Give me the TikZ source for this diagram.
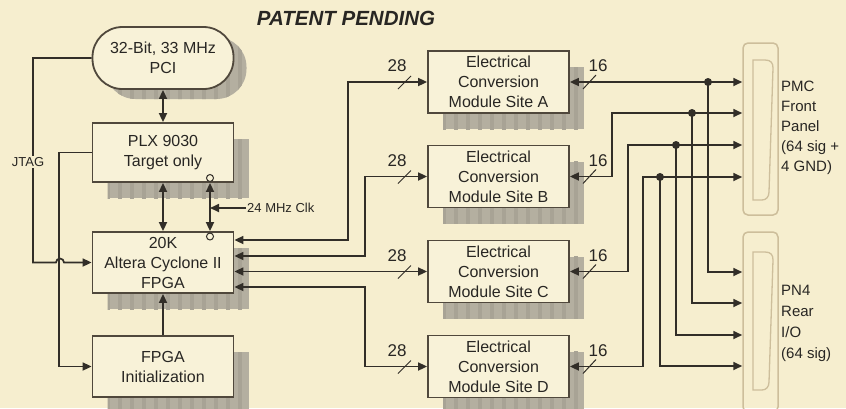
\documentclass[tikz,border=0pt]{standalone}
\usepackage{fontspec}
\setmainfont{Liberation Sans}
\usetikzlibrary{arrows.meta,shadows,patterns.meta}
\definecolor{bg}{RGB}{246,238,207}
\definecolor{boxfill}{RGB}{248,242,216}
\definecolor{boxline}{RGB}{80,72,60}
\definecolor{linec}{RGB}{50,46,40}
\definecolor{shadowc}{RGB}{180,175,160}
\definecolor{stripec}{RGB}{168,163,149}
\definecolor{connc}{RGB}{205,190,155}
\definecolor{txt}{RGB}{40,38,35}
\begin{document}
\begin{tikzpicture}[x=1pt,y=-1pt,
  ln/.style={draw=linec,line width=1.7pt},
  arr/.style={ln,-{Triangle[length=9pt,width=8pt]}},
  biarr/.style={ln,{Triangle[length=9pt,width=8pt]}-{Triangle[length=9pt,width=8pt]}},
  box/.style={draw=boxline,line width=1.8pt,fill=boxfill,minimum width=141pt,minimum height=61pt,inner sep=0pt,align=center,text=txt,font=\fontsize{16}{20}\selectfont},
  shsty/.style={fill=shadowc,opacity=1,postaction={pattern={Lines[angle=90,distance=12pt,line width=4pt]},pattern color=stripec}},
  boxsh/.style={box,drop shadow={shadow xshift=15pt,shadow yshift=-16pt,shsty}},
  lbl/.style={font=\fontsize{13}{15}\selectfont,inner sep=1pt,text=txt},
  num/.style={font=\fontsize{17}{18}\selectfont,inner sep=0pt,text=txt},
  slash/.style={draw=linec,line width=1pt},
  conn/.style={draw=connc,line width=1.5pt,rounded corners=5pt,minimum width=35pt,inner sep=0pt},
  inner/.style={draw=connc,line width=1.3pt},
  side/.style={font=\fontsize{15}{20}\selectfont,align=left,inner sep=0pt,anchor=west,text=txt},
  dot/.style={fill=linec}
]
\fill[bg] (0,0) rectangle (846,408);
\useasboundingbox (0,0) rectangle (846,408);

% title
\node[font=\fontsize{20.5}{22}\selectfont\bfseries\itshape,text=txt] (title) at (346,18) {PATENT PENDING};

% left column boxes
\node[box,rounded corners=30pt,minimum height=62pt,drop shadow={shadow xshift=13pt,shadow yshift=-10pt,shsty}] (pci) at (163,58) {32-Bit, 33 MHz\\PCI};
\node[boxsh,minimum height=59pt] (plx) at (163,152.5) {PLX 9030\\Target only};
\node[boxsh] (fpga) at (163,262.5) {20K\\Altera Cyclone II\\FPGA};
\node[boxsh] (init) at (163,366.5) {FPGA\\Initialization};

% sites
\node[boxsh,minimum height=62pt] (siteA) at (498.5,82) {Electrical\\Conversion\\Module Site A};
\node[boxsh,minimum height=62pt] (siteB) at (498.5,176.5) {Electrical\\Conversion\\Module Site B};
\node[boxsh,minimum height=62pt] (siteC) at (498.5,271.5) {Electrical\\Conversion\\Module Site C};
\node[boxsh,minimum height=62pt] (siteD) at (498.5,366.5) {Electrical\\Conversion\\Module Site D};

% connectors
\node[conn,minimum height=172pt] (pmc) at (760.5,129) {};
\node[conn,minimum height=180pt] (pn4) at (760.5,322) {};
\draw[inner] (753,60) -- (765,60) .. controls (771,60) and (773,63) .. (773,68) -- (769,192) .. controls (769,197) and (766,200) .. (762,200) -- (753,200) -- cycle;
\draw[inner] (753,252) -- (765,252) .. controls (771,252) and (773,255) .. (773,260) -- (769,382) .. controls (769,387) and (766,390) .. (762,390) -- (753,390) -- cycle;
\node[side] (pmcl) at (781,128) {PMC\\Front\\Panel\\(64 sig +\\4 GND)};
\node[side,font=\fontsize{15}{21}\selectfont] (pn4l) at (781,323) {PN4\\Rear\\I/O\\(64 sig)};

% vertical links left column
\draw[biarr] (pci.south) -- (plx.north);
\draw[biarr] (plx.south) -- (fpga.north);
\draw[biarr] ([xshift=47pt]plx.south) -- ([xshift=47pt]fpga.north);
\draw[linec,line width=1pt,fill=boxfill] (210,178) circle (3.5pt);
\draw[linec,line width=1pt,fill=boxfill] (210,236.5) circle (3.5pt);
\draw[arr] (init.north) -- (fpga.south);

% clock
\node[lbl,anchor=west] (clk) at (246,208) {24 MHz Clk};
\coordinate (clkin) at (210,208);
\draw[arr] (clk.west) -- (clkin);

% JTAG and init lines
\draw[arr] (pci.west) -- (33,58) -- (33,262.5) -- (56,262.5) arc[start angle=180,end angle=0,radius=4pt] -- (fpga.west);
\draw[arr] (plx.west) -| ([xshift=-32.5pt]init.west) -- (init.west);
\node[lbl,fill=bg] (jtag) at (28,162) {JTAG};

% FPGA to sites
\draw[biarr] ([yshift=22.5pt]fpga.east) -| (348,82) -- (siteA.west);
\draw[biarr] ([yshift=6.5pt]fpga.east) -| (365,176.5) -- (siteB.west);
\draw[biarr] ([yshift=-9pt]fpga.east) -- (siteC.west);
\draw[biarr] ([yshift=-24.5pt]fpga.east) -| (365,366.5) -- (siteD.west);

% bus width marks
\foreach \s/\yy in {A/82,B/176.5,C/271.5,D/366.5}{
  \node[num] (w28\s) at (397,\yy-16) {28};
  \draw[slash] (398,\yy+7) -- (411,\yy-6);
  \node[num] (w16\s) at (598,\yy-16) {16};
  \draw[slash] (583,\yy+7) -- (596,\yy-7);
}

% sites to connectors
\draw[biarr] (siteA.east) -- (pmc.west |- siteA.east);
\draw[biarr] (siteB.east) -- (612,176.5) -- (612,113) -- (pmc.west |- 0,113);
\draw[biarr] (siteC.east) -- (628,271.5) -- (628,145) -- (pmc.west |- 0,145);
\draw[biarr] (siteD.east) -- (643,366.5) -- (643,177) -- (pmc.west |- 0,177);

\coordinate (jA) at (708,82);
\coordinate (jB) at (692,113);
\coordinate (jC) at (676,145);
\coordinate (jD) at (660,177);
\draw[arr] (jA) -- (708,272) -- (pn4.west |- 0,272);
\draw[arr] (jB) -- (692,303) -- (pn4.west |- 0,303);
\draw[arr] (jC) -- (676,335) -- (pn4.west |- 0,335);
\draw[arr] (jD) -- (660,366) -- (pn4.west |- 0,366);
\foreach \j in {jA,jB,jC,jD} \fill[dot] (\j) circle (4pt);
\end{tikzpicture}
\end{document}
